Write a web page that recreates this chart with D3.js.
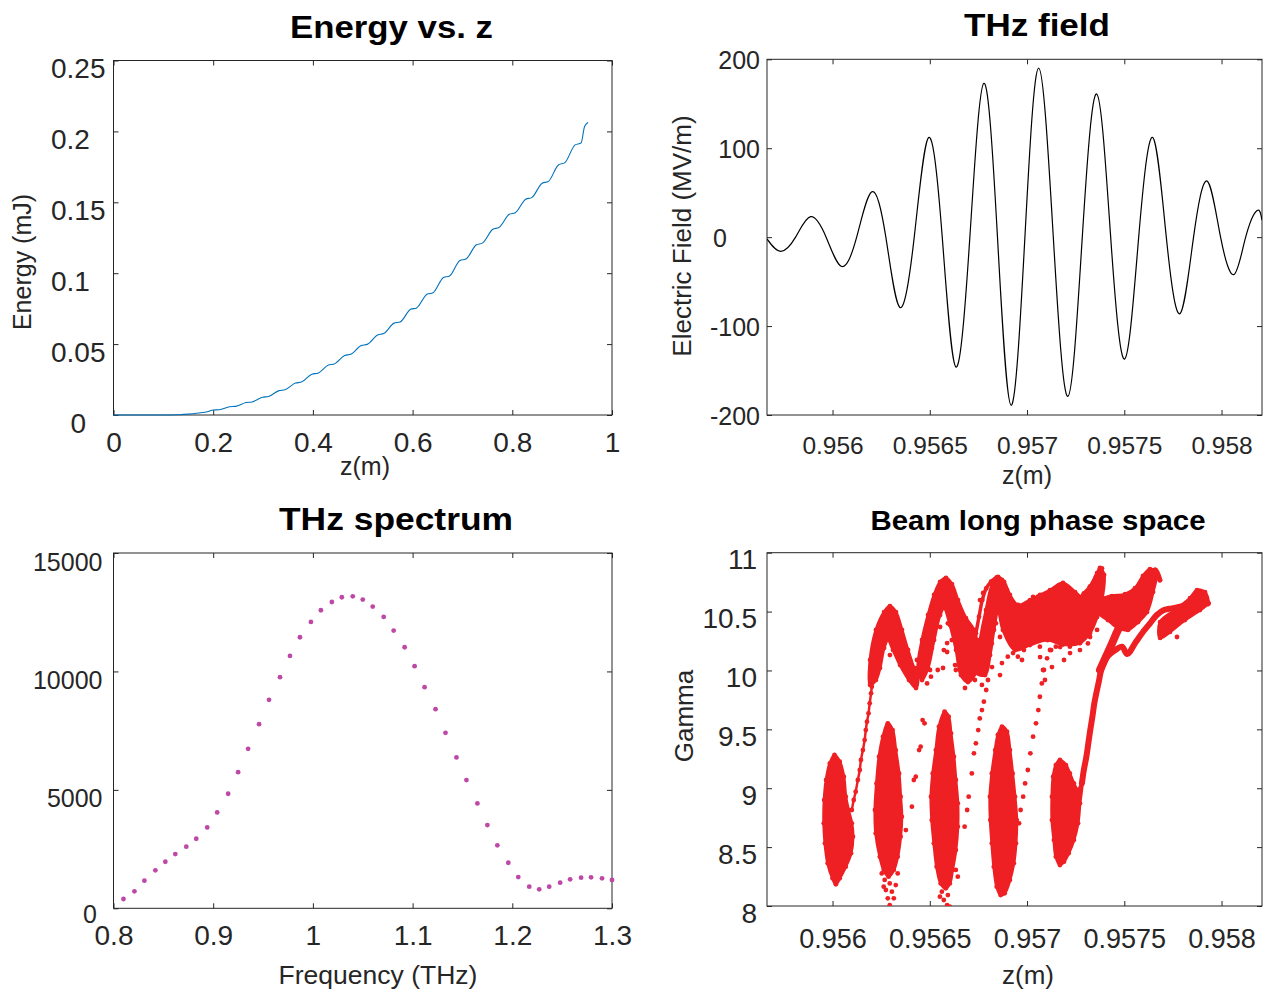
<!DOCTYPE html>
<html><head><meta charset="utf-8">
<script src="https://cdn.jsdelivr.net/npm/d3@7"></script>
<style>
body{margin:0;background:#fff}
svg{display:block}
text{font-family:"Liberation Sans",Arial,Helvetica,sans-serif}
</style>
</head><body>
<svg id="c" width="1264" height="992"></svg>
<script>
// ---------------- DATA ----------------
// Panel 1: Energy vs. z
const energyZ = [0,0.05,0.10,0.13,0.15,0.17,0.19,
  0.200,0.212,0.233,0.245,0.266,0.278,0.299,0.311,0.332,0.344,0.365,0.377,0.398,0.410,
  0.431,0.443,0.464,0.476,0.497,0.509,0.530,0.542,0.563,0.575,0.596,0.608,0.629,0.641,
  0.662,0.674,0.695,0.707,0.728,0.740,0.761,0.773,0.794,0.806,0.827,0.839,0.860,0.872,
  0.893,0.905,0.926,0.938,0.945,0.952];
const energyE = [0,0,0,0.0002,0.0006,0.0014,0.0025,
  0.0035,0.0037,0.0058,0.0061,0.0088,0.0092,0.0125,0.0130,0.0172,0.0178,0.0225,0.0232,0.0288,0.0295,
  0.0352,0.0360,0.0420,0.0428,0.0490,0.0498,0.0565,0.0574,0.0648,0.0656,0.0745,0.0755,0.0852,0.0862,
  0.0970,0.0980,0.1090,0.1100,0.1200,0.1212,0.1310,0.1322,0.1415,0.1427,0.1522,0.1533,0.1635,0.1646,
  0.1765,0.1778,0.1905,0.1918,0.2035,0.2063];
const energyXTicks = [0,0.2,0.4,0.6,0.8,1];
const energyXLabels = ["0","0.2","0.4","0.6","0.8","1"];
const energyYTicks = [0,0.05,0.1,0.15,0.2,0.25];
const energyYLabels = ["0","0.05","0.1","0.15","0.2","0.25"];

// Panel 2: THz field
const fieldZ = [0.955663,0.955733,0.955810,0.955887,0.955967,0.956047,0.956124,0.956202,0.956274,
  0.956346,0.956420,0.956494,0.956564,0.956634,0.956706,0.956778,0.956848,0.956918,0.956989,
  0.957060,0.957135,0.957210,0.957284,0.957358,0.957430,0.957502,0.957574,0.957646,0.957716,
  0.957786,0.957856,0.957926,0.957995,0.958064,0.958124,0.958183,0.958208];
const fieldE = [-2,-16,0,23,0,-33,0,51,0,-79,0,112,0,-146,0,173,0,-189,0,190,0,-179,0,161,0,
  -137,0,112,0,-86,0,63,0,-42,0,30,19];
const zTicks = [0.956,0.9565,0.957,0.9575,0.958];
const zLabels = ["0.956","0.9565","0.957","0.9575","0.958"];
const fieldYTicks = [-200,-100,0,100,200];
const fieldYLabels = ["-200","-100","0","100","200"];

// Panel 3: THz spectrum
const specF = [0.810,0.821,0.831,0.842,0.852,0.862,0.873,0.883,0.894,0.904,0.915,0.925,0.935,0.946,
  0.956,0.967,0.977,0.987,0.998,1.008,1.019,1.029,1.040,1.050,1.060,1.071,1.081,1.092,1.102,1.112,
  1.123,1.133,1.144,1.154,1.165,1.175,1.185,1.196,1.206,1.217,1.227,1.237,1.248,1.258,1.269,1.279,
  1.290,1.300];
const specA = [392,717,1165,1603,1966,2290,2600,2937,3416,4049,4835,5749,6733,7774,8800,9757,10655,
  11444,12089,12582,12932,13131,13173,13034,12738,12300,11726,11022,10220,9334,8406,7407,6369,5412,
  4429,3514,2657,1923,1320,911,801,911,1080,1223,1291,1308,1265,1194];
const specXTicks = [0.8,0.9,1,1.1,1.2,1.3];
const specXLabels = ["0.8","0.9","1","1.1","1.2","1.3"];
const specYTicks = [0,5000,10000,15000];
const specYLabels = ["0","5000","10000","15000"];

// Panel 4: Beam longitudinal phase space  [z (m), gamma]
// dense clusters (outlines)
const blob1 = [[0.956010,9.282],[0.956037,9.225],[0.956058,9.098],[0.956068,8.928],[0.956082,8.815],
  [0.956099,8.702],[0.956105,8.589],[0.956095,8.447],[0.956068,8.334],[0.956037,8.235],[0.956017,8.184],
  [0.956000,8.235],[0.955975,8.362],[0.955961,8.532],[0.955955,8.702],[0.955957,8.900],[0.955967,9.070],
  [0.955986,9.211]];
const blob2 = [[0.956284,9.551],[0.956309,9.494],[0.956325,9.324],[0.956342,9.126],[0.956350,8.928],
  [0.956356,8.758],[0.956350,8.589],[0.956335,8.419],[0.956315,8.306],[0.956288,8.249],[0.956263,8.306],
  [0.956243,8.419],[0.956222,8.617],[0.956218,8.815],[0.956226,9.041],[0.956239,9.268],[0.956259,9.438]];
const blob3 = [[0.956576,9.650],[0.956597,9.607],[0.956609,9.466],[0.956624,9.268],[0.956634,9.070],
  [0.956644,8.872],[0.956644,8.674],[0.956634,8.475],[0.956617,8.306],[0.956603,8.192],[0.956582,8.150],
  [0.956556,8.192],[0.956535,8.334],[0.956521,8.532],[0.956510,8.730],[0.956506,8.928],[0.956515,9.126],
  [0.956531,9.324],[0.956547,9.523]];
const blob4 = [[0.956871,9.523],[0.956897,9.480],[0.956912,9.324],[0.956926,9.126],[0.956938,8.928],
  [0.956947,8.730],[0.956943,8.532],[0.956932,8.362],[0.956912,8.221],[0.956885,8.108],[0.956864,8.093],
  [0.956844,8.164],[0.956829,8.334],[0.956819,8.532],[0.956811,8.730],[0.956809,8.928],[0.956819,9.126],
  [0.956836,9.324],[0.956850,9.452]];
const blob5 = [[0.957169,9.240],[0.957200,9.197],[0.957220,9.126],[0.957241,9.041],[0.957262,8.985],
  [0.957282,9.041],[0.957272,8.872],[0.957262,8.702],[0.957241,8.560],[0.957214,8.447],[0.957190,8.376],
  [0.957169,8.348],[0.957148,8.419],[0.957138,8.560],[0.957128,8.730],[0.957128,8.928],[0.957134,9.098],
  [0.957148,9.197]];
const hump1 = [[0.956193,10.089],[0.956223,10.344],[0.956265,10.496],[0.956295,10.547],[0.956326,10.496],
  [0.956357,10.344],[0.956388,10.174],[0.956419,10.021],[0.956439,9.961],[0.956429,9.851],[0.956393,9.919],
  [0.956347,10.046],[0.956311,10.174],[0.956285,10.259],[0.956265,10.191],[0.956244,10.021],[0.956223,9.919],
  [0.956193,9.877]];
const hump2 = [[0.956439,10.021],[0.956460,10.259],[0.956491,10.471],[0.956522,10.641],[0.956553,10.751],
  [0.956583,10.785],[0.956614,10.734],[0.956645,10.598],[0.956686,10.445],[0.956727,10.344],[0.956748,10.174],
  [0.956738,9.987],[0.956696,9.902],[0.956660,9.961],[0.956635,10.174],[0.956604,10.386],[0.956573,10.530],
  [0.956553,10.471],[0.956522,10.259],[0.956491,10.021],[0.956460,9.919]];
const hump3 = [[0.956732,9.987],[0.956758,10.259],[0.956789,10.513],[0.956820,10.726],[0.956851,10.794],
  [0.956882,10.751],[0.956912,10.641],[0.956954,10.556],[0.957015,10.598],[0.957067,10.641],[0.957118,10.683],
  [0.957185,10.743],[0.957247,10.666],[0.957283,10.624],[0.957324,10.709],[0.957360,10.827],[0.957375,10.870],
  [0.957396,10.811],[0.957385,10.598],[0.957360,10.454],[0.957324,10.318],[0.957272,10.233],[0.957185,10.220],
  [0.957103,10.259],[0.957015,10.216],[0.956938,10.174],[0.956876,10.344],[0.956851,10.513],[0.956830,10.344],
  [0.956810,10.131],[0.956784,9.961]];
const band1 = [[0.957375,10.598],[0.957437,10.632],[0.957504,10.649],[0.957555,10.700],[0.957596,10.802],
  [0.957632,10.861],[0.957663,10.819],[0.957648,10.666],[0.957617,10.496],[0.957571,10.411],[0.957519,10.344],
  [0.957468,10.361],[0.957416,10.428],[0.957375,10.479]];
const band2 = [[0.957684,10.411],[0.957761,10.513],[0.957838,10.615],[0.957874,10.683],[0.957915,10.666],
  [0.957930,10.573],[0.957889,10.513],[0.957812,10.428],[0.957735,10.327],[0.957684,10.276]];
// streaks
const humpRidge = [[0.956222,10.060],[0.956243,10.202],[0.956253,10.272],[0.956268,10.329],[0.956284,10.400],
  [0.956301,10.499],[0.956315,10.456],[0.956335,10.372],[0.956356,10.258],[0.956370,10.145],[0.956387,10.032],
  [0.956403,9.947],[0.956418,9.890],[0.956432,9.947],[0.956445,10.032],[0.956459,10.117],[0.956473,10.202],
  [0.956486,10.315],[0.956500,10.428],[0.956515,10.570],[0.956531,10.655],[0.956552,10.725],[0.956576,10.773],
  [0.956597,10.739],[0.956617,10.626],[0.956638,10.485],[0.956654,10.372],[0.956671,10.230],[0.956685,10.089],
  [0.956696,9.975],[0.956708,10.032],[0.956720,10.173],[0.956737,10.315],[0.956753,10.456],[0.956770,10.598],
  [0.956790,10.697],[0.956815,10.754],[0.956844,10.790],[0.956871,10.768],[0.956897,10.683],[0.956922,10.570],
  [0.956947,10.456],[0.956973,10.400],[0.957000,10.442],[0.957029,10.527],[0.957056,10.626],[0.957076,10.570],
  [0.957107,10.626],[0.957138,10.683],[0.957165,10.725],[0.957194,10.683],[0.957227,10.612],[0.957262,10.598],
  [0.957292,10.655],[0.957323,10.711],[0.957354,10.796],[0.957385,10.867]];
const rightUpper = [[0.957395,10.598],[0.957437,10.626],[0.957478,10.612],[0.957519,10.584],[0.957550,10.626],
  [0.957581,10.697],[0.957605,10.768],[0.957632,10.824],[0.957659,10.853],[0.957683,10.768]];
const upperStreak = [[0.957375,10.004],[0.957406,10.117],[0.957437,10.230],[0.957467,10.343],[0.957498,10.428],
  [0.957529,10.513],[0.957560,10.598],[0.957591,10.683]];
const rightLower = [[0.957282,9.041],[0.957292,9.155],[0.957305,9.268],[0.957315,9.381],[0.957325,9.494],
  [0.957336,9.607],[0.957346,9.721],[0.957356,9.806],[0.957369,9.905],[0.957379,9.989],[0.957395,10.074],
  [0.957420,10.131],[0.957453,10.173],[0.957488,10.202],[0.957515,10.140],[0.957560,10.244],[0.957597,10.329],
  [0.957632,10.400],[0.957667,10.471],[0.957704,10.513],[0.957745,10.527],[0.957786,10.541],[0.957828,10.555],
  [0.957869,10.584],[0.957900,10.626],[0.957930,10.570]];
const trail1 = [[0.956099,8.815],[0.956109,8.900],[0.956119,8.971],[0.956130,9.070],[0.956140,9.155],
  [0.956146,9.240],[0.956156,9.324],[0.956165,9.409],[0.956171,9.494],[0.956177,9.565],[0.956185,9.636],
  [0.956191,9.721],[0.956198,9.806],[0.956202,9.862],[0.956208,9.919],[0.956214,9.989],[0.956222,10.060]];
// sparse points
const trail2 = [[0.956377,8.645],[0.956408,8.843],[0.956418,9.070],[0.956428,9.098],[0.956445,9.324],
  [0.956453,9.353],[0.956463,9.579],[0.956473,9.551],[0.956486,9.890],[0.956506,9.947]];
const trail3 = [[0.956679,8.674],[0.956692,8.815],[0.956700,8.928],[0.956716,9.126],[0.956727,9.296],
  [0.956737,9.381],[0.956749,9.494],[0.956757,9.593],[0.956768,9.664],[0.956778,9.735],[0.956790,9.834],
  [0.956799,9.919]];
const trail4 = [[0.956959,8.702],[0.956967,8.815],[0.956980,8.928],[0.956990,9.041],[0.957004,9.155],
  [0.957017,9.296],[0.957031,9.438],[0.957046,9.551],[0.957058,9.664],[0.957066,9.777],[0.957076,9.890],
  [0.957087,10.004],[0.957103,10.103],[0.957124,10.173]];
const lowerTrace = [[0.956747,10.202],[0.956799,10.315],[0.956840,10.400],[0.956881,10.343],[0.956922,10.230],
  [0.956953,10.117],[0.956984,10.173],[0.957025,10.287],[0.957066,10.343],[0.957107,10.258],[0.957148,10.202],
  [0.957190,10.315],[0.957231,10.372],[0.957272,10.343],[0.957313,10.400],[0.957354,10.456]];
const scatterPts = [[0.956799,10.513],[0.956819,10.428],[0.956850,10.598],[0.956881,10.485],[0.956912,10.400],
  [0.956963,10.315],[0.957015,10.372],[0.957046,10.456],[0.957087,10.428],[0.957128,10.513],[0.957169,10.456],
  [0.957210,10.485],[0.957251,10.513],[0.957292,10.485],[0.957334,10.598],[0.956490,10.117],[0.956541,10.541],
  [0.956572,10.598],[0.956593,10.400],[0.956613,10.258],[0.956521,10.315],[0.956654,10.173],[0.956685,10.287],
  [0.956819,10.230],[0.956901,10.117],[0.956943,10.258],[0.957169,10.287],[0.957220,10.202],[0.957272,10.173],
  [0.957313,10.230],[0.956634,10.004],[0.956572,10.173],[0.956541,10.004],[0.957066,10.202],[0.957190,10.089],
  [0.956295,10.131],[0.956398,10.089],[0.956501,10.004],[0.956568,10.021],[0.956630,10.046],[0.956681,9.851],
  [0.956758,9.987],[0.956768,9.877],[0.956820,10.029],[0.956861,9.961],[0.956871,10.063],[0.956928,10.148],
  [0.956974,10.089],[0.956774,10.658],[0.956784,10.403],[0.956758,10.598],[0.956589,10.233],[0.956553,10.369],
  [0.956511,10.191],[0.956347,10.233],[0.956589,10.157],[0.956810,10.318],[0.956846,10.513],[0.956861,10.284],
  [0.956732,9.919],[0.956434,10.089],[0.957067,10.259],[0.957118,10.174],[0.957170,10.199],[0.957221,10.148],
  [0.957272,10.233],[0.957067,10.114],[0.957128,10.029],[0.957082,10.004],[0.957092,9.919],[0.957324,10.284],
  [0.957360,10.344],[0.957771,10.284],[0.957031,10.624],[0.957051,10.513],[0.957133,10.454],[0.957205,10.403]];
const tailPts = [[0.956268,8.221],[0.956294,8.192],[0.956274,8.136],[0.956305,8.122],[0.956284,8.065],
  [0.956315,8.065],[0.956294,8.008],[0.956263,8.164],[0.956325,8.178],[0.956253,8.277],[0.956335,8.277],
  [0.956562,8.122],[0.956593,8.093],[0.956572,8.051],[0.956589,8.008],[0.956603,7.995],[0.956552,8.079],
  [0.956634,8.306],[0.956644,8.249]];
const gammaYTicks = [8,8.5,9,9.5,10,10.5,11];
const gammaYLabels = ["8","8.5","9","9.5","10","10.5","11"];

// ---------------- DRAWING ----------------
const svg = d3.select("#c");
const INK = "#262626";

function frame(c) {
  const [x0, x1] = c.x.range();
  const [y0, y1] = c.y.range();
  const g = svg.append("g").style("color", INK);
  const clean = s => s.attr("font-size", null).attr("font-family", null).call(a => a.select(".domain").remove());

  const gb = g.append("g").attr("transform", `translate(0,${y0})`)
    .call(d3.axisBottom(c.x).tickValues(c.xTicks).tickFormat((d, i) => c.xLabels[i])
      .tickSizeInner(-5).tickSizeOuter(0).tickPadding(c.xBase)).call(clean);
  gb.selectAll("text").attr("dy", 0).attr("font-size", c.xFont).attr("fill", INK);

  g.append("g").attr("transform", `translate(0,${y1})`)
    .call(d3.axisTop(c.x).tickValues(c.xTicks).tickFormat("").tickSizeInner(-5).tickSizeOuter(0)).call(clean);

  const gl = g.append("g").attr("transform", `translate(${x0},0)`)
    .call(d3.axisLeft(c.y).tickValues(c.yTicks).tickFormat((d, i) => c.yLabels[i])
      .tickSizeInner(-5).tickSizeOuter(0).tickPadding(c.yPad)).call(clean);
  const isZ = d => d === 0 && c.zeroX != null;
  gl.selectAll("text").attr("font-size", c.yFont).attr("fill", INK)
    .attr("dy", d => isZ(d) && c.zeroDy != null ? c.zeroDy : c.yDy)
    .attr("text-anchor", d => isZ(d) ? "end" : c.yAnchor)
    .attr("x", d => isZ(d) ? c.zeroX - x0 : (c.yAnchor === "start" ? c.yStartX - x0 : -c.yPad));

  g.append("g").attr("transform", `translate(${x1},0)`)
    .call(d3.axisRight(c.y).tickValues(c.yTicks).tickFormat("").tickSizeInner(-5).tickSizeOuter(0)).call(clean);

  g.selectAll(".tick line").attr("stroke", INK).attr("stroke-width", 1);

  g.append("rect").attr("x", x0).attr("y", y1).attr("width", x1 - x0).attr("height", y0 - y1)
    .attr("fill", "none").attr("stroke", INK).attr("stroke-width", 1);

  svg.append("text").attr("x", c.title.x).attr("y", c.title.y).attr("text-anchor", "middle")
    .attr("font-weight", "bold").attr("font-size", c.title.size).attr("fill", "#000")
    .attr("textLength", c.title.len).attr("lengthAdjust", "spacingAndGlyphs").text(c.title.text);
  svg.append("text").attr("x", c.xl.x).attr("y", c.xl.y).attr("text-anchor", "middle")
    .attr("font-size", c.xl.size).attr("fill", INK).text(c.xl.text);
  if (c.yl) svg.append("text").attr("transform", `translate(${c.yl.x},${c.yl.y}) rotate(-90)`)
    .attr("text-anchor", "middle").attr("font-size", c.yl.size).attr("fill", INK).text(c.yl.text);
  return g;
}

function clip(id, x, y) {
  const [x0, x1] = x.range(), [y0, y1] = y.range();
  svg.append("clipPath").attr("id", id).append("rect")
    .attr("x", x0).attr("y", y1).attr("width", x1 - x0).attr("height", y0 - y1);
  return `url(#${id})`;
}

// ---- Panel 1 ----
{
  const x = d3.scaleLinear().domain([0, 1]).range([113.5, 612]);
  const y = d3.scaleLinear().domain([0, 0.25]).range([415, 60.5]);
  frame({x, y, xTicks: energyXTicks, xLabels: energyXLabels, yTicks: energyYTicks, yLabels: energyYLabels,
    xBase: 37, xFont: 28, yPad: 8, yDy: 17, yFont: 28, yAnchor: "start", yStartX: 51, zeroX: 86,
    title: {text: "Energy vs. z", x: 391.5, y: 38, size: 31, len: 203},
    xl: {text: "z(m)", x: 365, y: 475, size: 25},
    yl: {text: "Energy (mJ)", x: 31, y: 262, size: 25}});
  const pts = energyZ.map((z, i) => [z, energyE[i]]);
  svg.append("path").datum(pts)
    .attr("d", d3.line().x(d => x(d[0])).y(d => y(d[1])).curve(d3.curveMonotoneX))
    .attr("fill", "none").attr("stroke", "#0072BD").attr("stroke-width", 1.1);
}

// ---- Panel 2 ----
{
  const x = d3.scaleLinear().domain([0.955663, 0.958208]).range([767, 1262]);
  const y = d3.scaleLinear().domain([-200, 200]).range([415, 59.3]);
  frame({x, y, xTicks: zTicks, xLabels: zLabels, yTicks: fieldYTicks, yLabels: fieldYLabels,
    xBase: 39, xFont: 24.5, yPad: 7, yDy: 9, yFont: 25, yAnchor: "end", zeroX: 727,
    title: {text: "THz field", x: 1037, y: 36, size: 31, len: 146},
    xl: {text: "z(m)", x: 1027, y: 484, size: 25},
    yl: {text: "Electric Field (MV/m)", x: 691, y: 236, size: 26}});
  const pts = fieldZ.map((z, i) => [z, fieldE[i]]);
  svg.append("path").datum(pts).attr("clip-path", clip("c2", x, y))
    .attr("d", d3.line().x(d => x(d[0])).y(d => y(d[1])).curve(d3.curveNatural))
    .attr("fill", "none").attr("stroke", "#000").attr("stroke-width", 1.2);
}

// ---- Panel 3 ----
{
  const x = d3.scaleLinear().domain([0.8, 1.3]).range([113.5, 612]);
  const y = d3.scaleLinear().domain([0, 15000]).range([908.3, 553]);
  frame({x, y, xTicks: specXTicks, xLabels: specXLabels, yTicks: specYTicks, yLabels: specYLabels,
    xBase: 37, xFont: 28, yPad: 11, yDy: 17, yFont: 25, yAnchor: "end", zeroX: 97, zeroDy: 14,
    title: {text: "THz spectrum", x: 396, y: 530, size: 32, len: 234},
    xl: {text: "Frequency (THz)", x: 378, y: 984, size: 26.5}});
  svg.append("g").selectAll("circle").data(specF.map((f, i) => [f, specA[i]])).join("circle")
    .attr("cx", d => x(d[0])).attr("cy", d => y(d[1])).attr("r", 2.4).attr("fill", "#BD48A6");
}

// ---- Panel 4 ----
{
  const x = d3.scaleLinear().domain([0.955663, 0.958208]).range([767, 1262]);
  const y = d3.scaleLinear().domain([8, 11]).range([906, 552.7]);
  frame({x, y, xTicks: zTicks, xLabels: zLabels, yTicks: gammaYTicks, yLabels: gammaYLabels,
    xBase: 42, xFont: 27, yPad: 10, yDy: 16, yFont: 28, yAnchor: "end",
    title: {text: "Beam long phase space", x: 1038, y: 530, size: 28, len: 335},
    xl: {text: "z(m)", x: 1028, y: 984, size: 26},
    yl: {text: "Gamma", x: 693, y: 716, size: 26}});
  const RED = "#EE2024";
  const g = svg.append("g").attr("clip-path", clip("c4", x, y));
  const closed = d3.line().x(d => x(d[0])).y(d => y(d[1])).curve(d3.curveCatmullRomClosed);
  const open = d3.line().x(d => x(d[0])).y(d => y(d[1])).curve(d3.curveCatmullRom);
  const clusters = [blob1, blob2, blob3, blob4, blob5, hump1, hump2, hump3, band1, band2];
  clusters.forEach(b => {
    g.append("path").datum(b).attr("d", closed).attr("fill", RED).attr("stroke", RED)
      .attr("stroke-width", 3).attr("stroke-linejoin", "round");
  });
  const streaks = [[humpRidge, 3.5], [rightUpper, 5], [upperStreak, 8], [rightLower, 6], [trail1, 2.5]];
  streaks.forEach(([r, w]) => {
    g.append("path").datum(r).attr("d", open).attr("fill", "none").attr("stroke", RED)
      .attr("stroke-width", w).attr("stroke-linecap", "round").attr("stroke-linejoin", "round");
  });
  const dots = [].concat(...clusters, humpRidge, rightUpper, upperStreak, rightLower, trail1,
    trail2, trail3, trail4, lowerTrace, scatterPts, tailPts);
  g.append("g").selectAll("circle").data(dots).join("circle")
    .attr("cx", d => x(d[0])).attr("cy", d => y(d[1])).attr("r", 2.4).attr("fill", RED);
}
</script>
</body></html>
